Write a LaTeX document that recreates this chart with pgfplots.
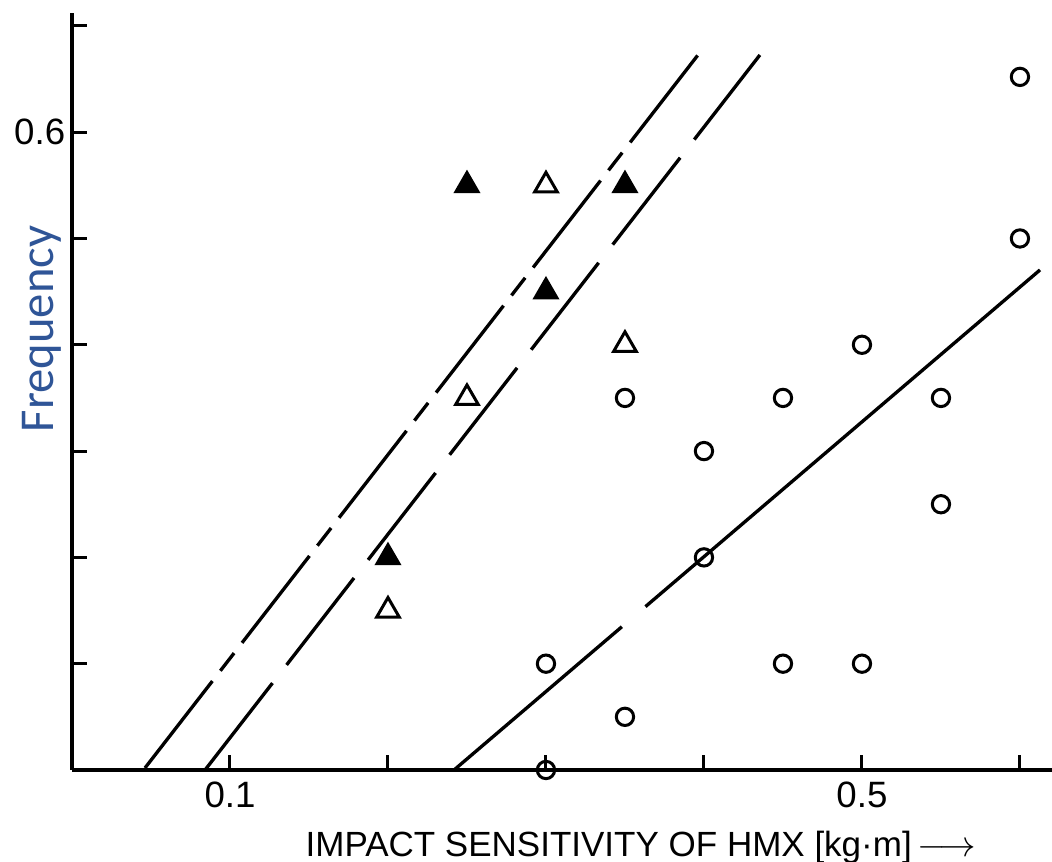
\documentclass[border=0pt]{standalone}
\usepackage{pgfplots}
\pgfplotsset{compat=1.18}
\usepackage{fontspec}
\setmainfont{Liberation Sans}
\newfontfamily\calibri{Carlito}
\definecolor{freqblue}{RGB}{47,85,151}
\begin{document}
\begin{tikzpicture}
\begin{axis}[
  scale only axis, width=294pt, height=227.1pt,
  xmin=0, xmax=0.6203, ymin=0, ymax=0.7121,
  axis x line=bottom, axis y line=left,
  axis line style={-, line width=1.2pt, black},
  tick align=inside,
  major tick length=4.5pt,
  tick style={line width=0.9pt, black},
  xtick={0.1,0.2,0.3,0.4,0.5,0.6},
  xticklabels={0.1,{},{},{},0.5,{}},
  ytick={0.1,0.2,0.3,0.4,0.5,0.6,0.7},
  yticklabels={{},{},{},{},{},0.6,{}},
  ticklabel style={font=\fontsize{11}{13}\selectfont},
  yticklabel style={xshift=1.5pt},
  clip=false,
]
% fitted lines
\addplot[black, line width=1pt, dash pattern=on 33pt off 3.9pt on 6.7pt off 3.9pt]
  coordinates {(0.0462,0.0019) (0.3962,0.6726)};
\addplot[black, line width=1pt, dash pattern=on 33pt off 6.9pt]
  coordinates {(0.0842,0) (0.4354,0.6726)};
\addplot[black, line width=1pt, dash pattern=on 66.2pt off 9.3pt on 500pt off 1pt]
  coordinates {(0.2418,0) (0.6127,0.4704)};
% filled triangles
\addplot[only marks, mark=triangle*, mark size=3.9pt, black, mark options={solid, line width=0.8pt, fill=black}]
  coordinates {(0.25,0.55) (0.35,0.55) (0.30,0.45) (0.20,0.20)};
% open triangles
\addplot[only marks, mark=triangle, mark size=3.9pt, black, mark options={solid, line width=0.9pt}]
  coordinates {(0.30,0.55) (0.35,0.40) (0.25,0.35) (0.20,0.15)};
% open circles
\addplot[only marks, mark=o, mark size=2.6pt, black, mark options={solid, line width=0.9pt}]
  coordinates {(0.60,0.652) (0.60,0.50) (0.50,0.40) (0.35,0.35) (0.45,0.35) (0.55,0.35)
               (0.40,0.30) (0.55,0.25) (0.40,0.20) (0.30,0.10) (0.45,0.10) (0.50,0.10)
               (0.35,0.05) (0.30,0.00)};
\node[anchor=base, font=\fontsize{10.5}{12}\selectfont]
  at ([yshift=-26.1pt]axis description cs:0.5806,0) {IMPACT SENSITIVITY OF HMX [kg·m]\,$\longrightarrow$};
\node[rotate=90, font=\calibri\fontsize{14.6}{16}\selectfont, text=freqblue]
  at ([xshift=-9.0pt]axis description cs:0,0.5826) {Frequency};
\end{axis}
\pgfresetboundingbox
\path[use as bounding box] ([shift={(-21.6pt,-27.6pt)}]current axis.south west) rectangle ([shift={(294pt,231pt)}]current axis.south west);
\end{tikzpicture}
\end{document}
